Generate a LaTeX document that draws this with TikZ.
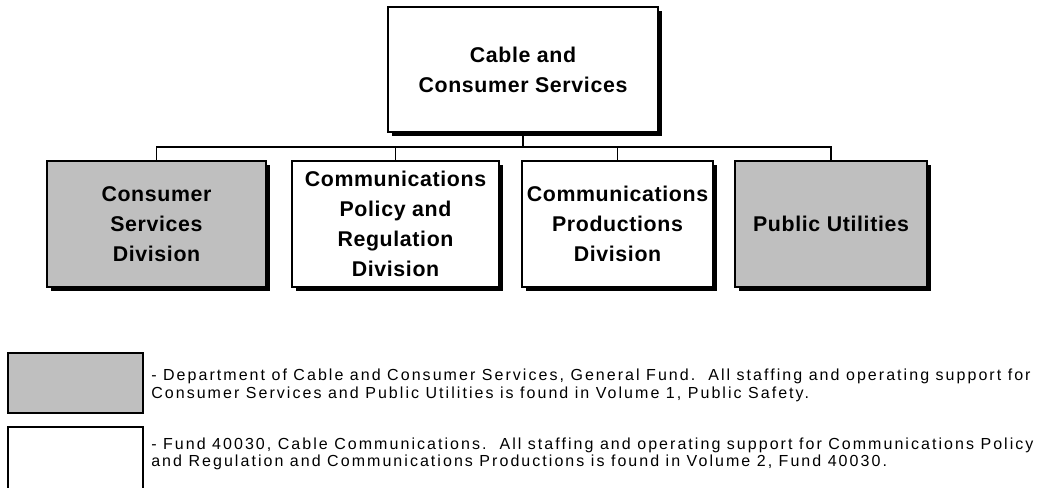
\documentclass[tikz,border=0pt]{standalone}
\usepackage{fontspec}
\setmainfont{Liberation Sans}
\newfontfamily\unitfont[LetterSpace=3]{Liberation Sans}
\newfontfamily\keyfont[LetterSpace=12.8]{Liberation Sans}
\usetikzlibrary{shadows}

\begin{document}
\begin{tikzpicture}[x=0.75pt, y=-0.75pt]
  \useasboundingbox (0,0) rectangle (1053,487);
  \clip (0,0) rectangle (1053,487);

  \colorlet{c0}{black!25!white}
  \colorlet{c1}{white}

  \tikzset{
    unit/.style = {draw, line width=1.1pt, align=center, inner sep=0pt,
                   font=\unitfont\fontsize{16}{22.5}\selectfont\bfseries,
                   drop shadow={shadow xshift=3.2pt, shadow yshift=-3.2pt,
                                fill=black, opacity=1}},
    key/.style  = {anchor=west, align=left, inner sep=0pt,
                   font=\keyfont\fontsize{12}{13}\selectfont}
  }

  % top box and divisions
  \node[unit, fill=c1, minimum width=202.5pt, minimum height=93.75pt]
    (cable) at (523,69.5) {Cable and\\Consumer Services};

  \foreach \x \w \z \n \t in {
    156.5/219/c0/csd/{Consumer\\Services\\Division},
    395.5/207/c1/cpr/{Communications\\Policy and\\Regulation\\Division},
    617.5/191/c1/cpd/{Communications\\Productions\\Division},
    831/192/c0/pu/{Public Utilities}}{
      \node[unit, fill=\z, minimum width=0.75*\w pt, minimum height=94.5pt]
        (\n) at (\x,224) {\t};
    }

  \coordinate (bus) at (523,147);

  % draw after the boxes
  \draw[line width=0.8pt] (cable.south) -- (bus);
  \draw[line width=0.8pt] (csd.north) -- (csd.north |- bus) -- (pu.north |- bus) -- (pu.north);
  \draw[line width=0.8pt] (cpr.north) -- (cpr.north |- bus);
  \draw[line width=0.8pt] (cpd.north) -- (cpd.north |- bus);

  % legend
  \fill[fill=c0] (8,353) rectangle (143,413);
  \draw[line width=1pt] (8,353) rectangle (143,413);
  \draw[line width=1pt] (8,500) -- (8,427) -- (143,427) -- (143,500);

  \node[key] (gf) at (151,385.5)
    {- Department of Cable and Consumer Services, General Fund.\ \ All staffing and operating support for\\
     Consumer Services and Public Utilities is found in Volume 1, Public Safety.};
  \node[key] (cc) at (151,454)
    {- Fund 40030, Cable Communications.\ \ All staffing and operating support for Communications Policy\\
     and Regulation and Communications Productions is found in Volume 2, Fund 40030.};
\end{tikzpicture}
\end{document}
